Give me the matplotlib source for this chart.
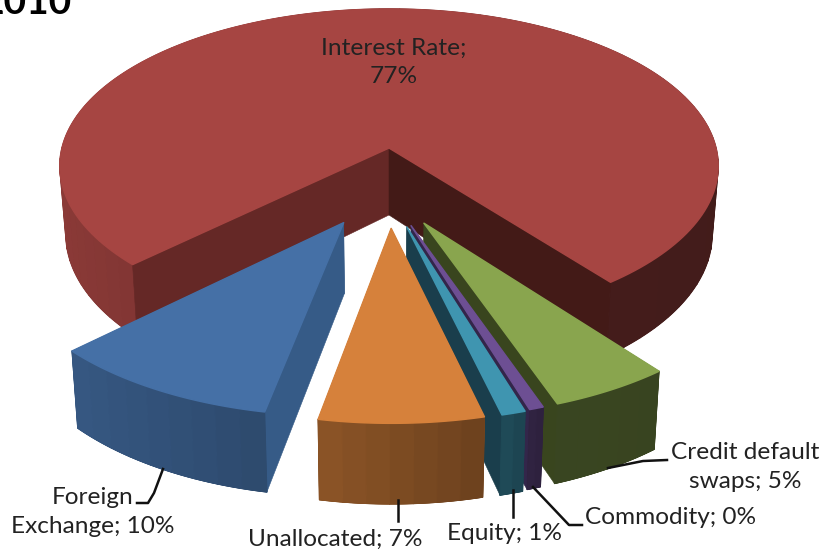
import numpy as np
import matplotlib
matplotlib.use("Agg")
import matplotlib.pyplot as plt
from matplotlib.patches import Polygon

# data, clockwise from the first slice
categories = ["Interest Rate", "Credit default swaps", "Commodity", "Equity", "Unallocated", "Foreign Exchange"]
values = [76.6, 5.1, 0.6, 1.0, 6.9, 9.8]
percent_labels = ["77%", "5%", "0%", "1%", "7%", "10%"]

top_colors = ["#A64542", "#89A54E", "#6D4F93", "#3F95B0", "#D6813B", "#4570A6"]
cut_colors = ["#652826", "#39451E", "#33264A", "#1A3E4C", "#8A5527", "#365B87"]
explode_x = [0.0, 0.21, 0.20, 0.19, 0.24, 0.275]
explode_y = [0.0, 0.525, 0.50, 0.50, 0.49, 0.52]
radius = [1.0, 0.985, 0.985, 0.985, 0.985, 0.985]

CX, CY, RX, RY, K, H, CONV = 389.0, 148.0, 327.0, 155.0, 0.115, 67.0, 0.018
START = 226.2

def project(X, Y, z=0.0):
    s = 1.0 / (1.0 + K * Y)
    return (CX + RX * X * s * (1 - CONV * z), CY - RY * Y * s + H * s * z)

def shade(color, a):
    n = np.sin(np.radians(a))
    f = np.interp(n, [-1, -0.7, -0.2, 0.25, 0.33, 1], [0.84, 0.78, 0.66, 0.50, 0.42, 0.40])
    rgb = np.array(matplotlib.colors.to_rgb(color)) * f
    return tuple(rgb)

fig = plt.figure(figsize=(8.22, 5.49), dpi=100)
ax = fig.add_axes([0, 0, 1, 1])
ax.set_xlim(0, 822)
ax.set_ylim(549, 0)
ax.axis("off")

def poly(pts, c, zo, lw=0.4):
    ax.add_patch(Polygon(pts, closed=True, facecolor=c, edgecolor=c, linewidth=lw, zorder=zo, joinstyle="round"))

spans = np.array(values) / sum(values) * 360.0
starts = START + np.concatenate([[0], np.cumsum(spans)[:-1]])

# painter order: back slice first
order = [0, 5, 1, 2, 3, 4]
for layer, i in enumerate(order):
    a0, a1 = starts[i], starts[i] + spans[i]
    mid = np.radians((a0 + a1) / 2)
    ox, oy = explode_x[i] * np.sin(mid), explode_y[i] * np.cos(mid)
    r = radius[i]
    zo = 2 + layer * 5
    pt = lambda a, z=0.0: project(ox + r * np.sin(np.radians(a)), oy + r * np.cos(np.radians(a)), z)

    n_strips = max(2, int(np.ceil(spans[i] / 4.0)))
    arc = np.linspace(a0, a1, n_strips + 1)

    def wall(zorder):
        fine = np.linspace(a0, a1, 240)
        base = [pt(a) for a in fine] + [pt(a, 1) for a in fine[::-1]]
        poly(base, shade(top_colors[i], (a0 + a1) / 2), zorder)
        for a, b in zip(arc[:-1], arc[1:]):
            q = np.linspace(a, b, 8)
            strip = [pt(v) for v in q] + [pt(v, 1) for v in q[::-1]]
            poly(strip, shade(top_colors[i], (a + b) / 2), zorder, lw=0.8)

    wall(zo)
    apex, apex_b = project(ox, oy), project(ox, oy, 1)
    if i == 0:
        # notch of the main slice: left face and right face
        poly([apex, pt(a0), pt(a0, 1), apex_b], cut_colors[i], zo + 1)
        poly([apex, pt(a1), pt(a1, 1), apex_b], "#431A17", zo + 1)
    else:
        poly([apex, pt(a0), pt(a0, 1), apex_b], cut_colors[i], zo + 1)
        poly([apex, pt(a1), pt(a1, 1), apex_b], cut_colors[i], zo + 1)
        wall(zo + 2)

    top = [apex] + [pt(a) for a in np.linspace(a0, a1, 200)]
    poly(top, top_colors[i], zo + 3, lw=1.1)

# leader lines
line_kw = dict(color="#111111", lw=1.8, zorder=60, solid_joinstyle="round")
ax.plot([163, 154, 148, 137], [469, 493, 503, 503], **line_kw)
ax.plot([398, 398], [500, 521], **line_kw)
ax.plot([513, 513], [490, 517], **line_kw)
ax.plot([533, 569, 582], [487, 525, 525], **line_kw)
ax.plot([608, 643, 667], [468, 461, 460], **line_kw)

# labels
font = "Lato"
kw = dict(family=font, fontsize=17.6, color="#222222", ha="center", va="center", zorder=70, linespacing=1.42)
ax.text(394, 62, f"{categories[0]};\n{percent_labels[0]}", **kw)
ax.text(745, 467, f"Credit default\nswaps; {percent_labels[1]}", **kw)
ax.text(671, 518, f"{categories[2]}; {percent_labels[2]}", **kw)
ax.text(504, 534, f"{categories[3]}; {percent_labels[3]}", **kw)
ax.text(335, 539, f"{categories[4]}; {percent_labels[4]}", **kw)
ax.text(93, 512, f"Foreign\nExchange; {percent_labels[5]}", **kw)

ax.text(72, 14, "2010", family=font, fontweight="bold", fontsize=28, color="black", ha="right", va="baseline", zorder=70)

fig.savefig("out.png", dpi=100, facecolor="white")
